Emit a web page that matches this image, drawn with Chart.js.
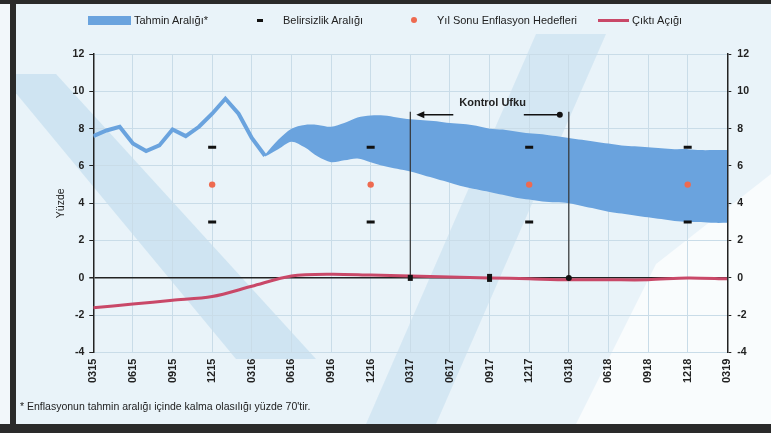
<!DOCTYPE html>
<html>
<head>
<meta charset="utf-8">
<script src="https://cdn.jsdelivr.net/npm/chart.js@4.4.0/dist/chart.umd.min.js"></script>
<style>
  body { margin: 0; width: 771px; height: 433px; background: #f2f7fa; position: relative; overflow: hidden; font-family: "Liberation Sans", Arial, sans-serif; }
  .bar { position: absolute; background: #2a2a2a; }
  #wrap { position: absolute; left: 16px; top: 4px; width: 755px; height: 420px; }
  #note { position: absolute; left: 20px; top: 400px; font-size: 10.5px; color: #222; }
  .lg { position: absolute; font-size: 11px; color: #222; top: 14px; white-space: nowrap; }
  .sw { position: absolute; }
</style>
</head>
<body>
<div class="bar" style="left:0;top:0;width:771px;height:4px"></div>
<div class="bar" style="left:10px;top:0;width:6px;height:433px"></div>
<div class="bar" style="left:0;top:424px;width:771px;height:9px"></div>
<div id="wrap"><canvas id="chart" width="755" height="420"></canvas></div>
<div class="sw" style="left:88px;top:16px;width:43px;height:9px;background:#6aa3de"></div>
<div class="lg" style="left:134px">Tahmin Aralığı*</div>
<div class="sw" style="left:257px;top:19px;width:6px;height:3px;background:#111"></div>
<div class="lg" style="left:283px">Belirsizlik Aralığı</div>
<div class="sw" style="left:411px;top:17px;width:6px;height:6px;border-radius:3px;background:#ee6a50"></div>
<div class="lg" style="left:437px">Yıl Sonu Enflasyon Hedefleri</div>
<div class="sw" style="left:598px;top:19px;width:31px;height:3px;background:#c94868"></div>
<div class="lg" style="left:632px">Çıktı Açığı</div>
<div id="note">* Enflasyonun tahmin aralığı içinde kalma olasılığı yüzde 70'tir.</div>
<script>
// quarterly tick labels (every 3 months, 03/15 .. 03/19)
const quarterLabels = ['0315', '0615', '0915', '1215', '0316', '0616', '0916', '1216',
    '0317', '0617', '0917', '1217', '0318', '0618', '0918', '1218', '0319'];

// realised annual inflation, monthly from 03/15
const inflation = [7.6, 7.9, 8.1, 7.2, 6.8, 7.1, 7.95, 7.6, 8.1, 8.8, 9.6, 8.8, 7.5, 6.55];

// forecast range, monthly, starting at month 13 (04/16)
const bandStart = 13;
const bandUpper = [6.6, 7.4, 8.0, 8.2, 8.2, 8.1, 8.3, 8.6, 8.7, 8.7, 8.6, 8.5, 8.45, 8.4, 8.3, 8.25,
    8.15, 8.0, 7.95, 7.85, 7.75, 7.7, 7.6, 7.5, 7.4, 7.3, 7.2, 7.1, 7.05, 7.0, 6.95, 6.9, 6.9, 6.85, 6.85, 6.85];
const bandLower = [6.5, 6.9, 7.3, 7.0, 6.5, 6.2, 6.3, 6.4, 6.2, 6.0, 5.85, 5.7, 5.5, 5.3, 5.1, 4.9,
    4.75, 4.6, 4.45, 4.3, 4.2, 4.1, 4.05, 4.0, 3.85, 3.7, 3.55, 3.45, 3.35, 3.25, 3.15, 3.05, 3.0, 3.0, 2.95, 2.95];

// year-end targets and uncertainty bounds
const targetLabels = ['1215', '1216', '1217', '1218'];
const targets = [5, 5, 5, 5];
const uncertaintyUpper = [7, 7, 7, 7];
const uncertaintyLower = [3, 3, 3, 3];

// output gap, quarterly
const outputGap = [-1.6, -1.4, -1.2, -1.0, -0.45, 0.1, 0.2, 0.15, 0.1, 0.05, 0.0, -0.05, -0.1, -0.1, -0.1, 0.0, -0.05];

const yTicks = [-4, -2, 0, 2, 4, 6, 8, 10, 12];

const horizon = ['0317', '0318'];

const qIdx = lbl => quarterLabels.indexOf(lbl) * 3;

const inflationPts = inflation.map((v, i) => ({ x: i, y: v }));
const upperPts = bandUpper.map((v, i) => ({ x: bandStart + i, y: v }));
const lowerPts = bandLower.map((v, i) => ({ x: bandStart + i, y: v }));
const targetPts = targetLabels.map((l, i) => ({ x: qIdx(l), y: targets[i] }));
const uncPts = targetLabels.flatMap((l, i) => [{ x: qIdx(l), y: uncertaintyUpper[i] }, { x: qIdx(l), y: uncertaintyLower[i] }]);
const gapPts = outputGap.map((v, i) => ({ x: i * 3, y: v }));

const BLUE = '#6aa3de';
const RED = '#c94868';
const TARGET = '#ee6a50';
const FONT = '"Liberation Sans", Arial';

// background watermark stripes
const watermark = {
    id: 'watermark',
    beforeDraw(chart) {
        const g = chart.ctx;
        g.save();
        g.fillStyle = '#e9f3f9';
        g.fillRect(0, 0, chart.width, chart.height);
        g.fillStyle = 'rgba(175,210,232,0.45)';
        g.beginPath();
        g.moveTo(-16, 70); g.lineTo(40, 70); g.lineTo(300, 355); g.lineTo(220, 355); g.closePath();
        g.fill();
        g.fillStyle = 'rgba(175,210,232,0.35)';
        g.beginPath();
        g.moveTo(520, 30); g.lineTo(590, 30); g.lineTo(420, 420); g.lineTo(350, 420); g.closePath();
        g.fill();
        g.fillStyle = 'rgba(255,255,255,0.7)';
        g.beginPath();
        g.moveTo(640, 260); g.lineTo(755, 170); g.lineTo(755, 420); g.lineTo(560, 420); g.closePath();
        g.fill();
        g.restore();
    }
};

// "Kontrol Ufku" horizon markers
const horizonPlugin = {
    id: 'horizon',
    afterDatasetsDraw(chart) {
        const g = chart.ctx, xs = chart.scales.x, ys = chart.scales.y;
        const x1 = xs.getPixelForValue(qIdx(horizon[0]));
        const x2 = xs.getPixelForValue(qIdx(horizon[1]));
        const yTop = ys.getPixelForValue(8.9);
        const yArrow = ys.getPixelForValue(8.75);
        const y0 = ys.getPixelForValue(0);
        g.save();
        g.strokeStyle = '#333';
        g.lineWidth = 1.2;
        g.beginPath();
        g.moveTo(x1, yTop); g.lineTo(x1, y0);
        g.moveTo(x2, yTop); g.lineTo(x2, y0);
        g.stroke();
        g.fillStyle = '#111';
        g.fillRect(x1 - 2.5, y0 - 3, 5, 6);
        g.fillRect(xs.getPixelForValue(qIdx('0917')) - 2.5, y0 - 4, 5, 8);
        g.beginPath(); g.arc(x2, y0, 3, 0, Math.PI * 2); g.fill();
        g.lineWidth = 1.5;
        g.strokeStyle = '#111';
        g.beginPath();
        g.moveTo(x1 + 43, yArrow); g.lineTo(x1 + 10, yArrow);
        g.moveTo(x2 - 45, yArrow); g.lineTo(x2 - 10, yArrow);
        g.stroke();
        g.beginPath();
        g.moveTo(x1 + 6, yArrow); g.lineTo(x1 + 14, yArrow - 3.5); g.lineTo(x1 + 14, yArrow + 3.5); g.closePath();
        g.fill();
        g.beginPath(); g.arc(x2 - 9, yArrow, 3, 0, Math.PI * 2); g.fill();
        g.font = 'bold 11px ' + FONT;
        g.textAlign = 'center';
        g.textBaseline = 'middle';
        g.fillStyle = '#222';
        g.fillText('Kontrol Ufku', (x1 + x2) / 2 + 3, ys.getPixelForValue(9.4));
        g.restore();
    }
};

const gridColor = ctx => ctx.tick && ctx.tick.value === 0 ? '#222' : '#c9dce8';

new Chart(document.getElementById('chart'), {
    type: 'line',
    data: {
        datasets: [
            { label: 'Tahmin Aralığı*', data: upperPts, borderColor: BLUE, borderWidth: 0, backgroundColor: BLUE,
              pointRadius: 0, fill: '+1', tension: 0.3, order: 5 },
            { label: 'lower', data: lowerPts, borderColor: BLUE, borderWidth: 0, pointRadius: 0, fill: false, tension: 0.3, order: 5 },
            { label: 'actual', data: inflationPts, borderColor: BLUE, borderWidth: 4, pointRadius: 0, fill: false, order: 4 },
            { label: 'Belirsizlik Aralığı', data: uncPts, showLine: false, pointStyle: 'line', pointRadius: 4,
              borderColor: '#111', borderWidth: 3, backgroundColor: '#111', order: 1 },
            { label: 'Yıl Sonu Enflasyon Hedefleri', data: targetPts, showLine: false, pointStyle: 'circle', pointRadius: 3.2,
              borderColor: TARGET, backgroundColor: TARGET, borderWidth: 0, order: 1 },
            { label: 'Çıktı Açığı', data: gapPts, borderColor: RED, borderWidth: 3, pointRadius: 0, fill: false,
              tension: 0.3, yAxisID: 'y2', order: 2 }
        ]
    },
    options: {
        responsive: false,
        animation: false,
        layout: { padding: { left: 39, right: 16, top: 50, bottom: 35 } },
        plugins: {
            legend: { display: false },
            tooltip: { enabled: false }
        },
        scales: {
            x: {
                type: 'linear', min: 0, max: 48,
                border: { display: false },
                grid: { color: '#c9dce8', drawTicks: false },
                ticks: {
                    stepSize: 3, autoSkip: false, minRotation: 90, maxRotation: 90, padding: 6,
                    color: '#222', font: { family: FONT, size: 11, weight: 'bold' },
                    callback: v => quarterLabels[v / 3]
                }
            },
            y: {
                min: -4, max: 12,
                border: { display: true, color: '#222', width: 1.5 },
                grid: { color: gridColor, lineWidth: ctx => ctx.tick && ctx.tick.value === 0 ? 1.5 : 1, tickColor: '#222', tickLength: 4 },
                afterBuildTicks: axis => { axis.ticks = yTicks.map(v => ({ value: v })); },
                ticks: { color: '#222', padding: 5, font: { family: FONT, size: 10.5, weight: 'bold' } },
                title: { display: true, text: 'Yüzde', color: '#222', padding: { top: 0, bottom: 0 }, font: { family: FONT, size: 10.5 } }
            },
            y2: {
                position: 'right', min: -4, max: 12,
                border: { display: true, color: '#222', width: 1.5 },
                grid: { drawOnChartArea: false, tickColor: '#222', tickLength: 4 },
                afterBuildTicks: axis => { axis.ticks = yTicks.map(v => ({ value: v })); },
                ticks: { color: '#222', padding: 6, font: { family: FONT, size: 10.5, weight: 'bold' } }
            }
        }
    },
    plugins: [watermark, horizonPlugin]
});
</script>
</body>
</html>
